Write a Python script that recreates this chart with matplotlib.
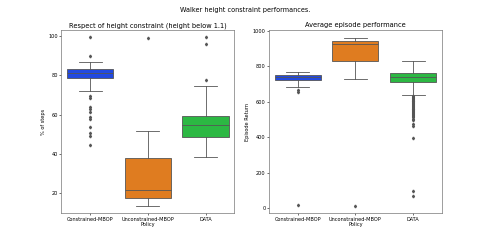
import matplotlib
matplotlib.use("Agg")
import matplotlib.pyplot as plt

policies = ["Constrained-MBOP", "Unconstrained-MBOP", "DATA"]
colors = ["#2249e0", "#df7c20", "#2cb843"]

# % of steps respecting the height constraint
pct_q1 = [78.5, 17.4, 48.4]
pct_med = [81.0, 21.5, 54.7]
pct_q3 = [83.0, 37.8, 59.3]
pct_wlo = [72.2, 13.6, 38.3]
pct_whi = [86.6, 51.7, 74.7]
pct_fliers = [
    [99.6, 89.8, 69.6, 68.3, 64.0, 63.0, 61.5, 58.6, 57.6, 53.8, 50.5, 49.1, 44.5],
    [98.8],
    [99.5, 95.9, 77.3],
]

# average episode return
ret_q1 = [725, 833, 712]
ret_med = [740, 929, 740]
ret_q3 = [754, 942, 763]
ret_wlo = [684, 731, 639]
ret_whi = [768, 963, 833]
ret_fliers = [
    [665, 658, 15],
    [10],
    [632, 627, 622, 617, 612, 607, 602, 597, 592, 587, 582, 577, 572, 567, 562,
     557, 552, 547, 542, 537, 532, 527, 520, 512, 505, 496, 477, 462, 398, 96, 68],
]


def mkstats(q1, med, q3, wlo, whi, fliers):
    return [dict(q1=a, med=b, q3=c, whislo=d, whishi=e, fliers=f)
            for a, b, c, d, e, f in zip(q1, med, q3, wlo, whi, fliers)]


def draw(ax, stats):
    gray = "#555555"
    bp = ax.bxp(stats, positions=range(len(stats)), widths=0.8, patch_artist=True,
                showfliers=True, capwidths=0.4,
                boxprops=dict(edgecolor=gray, linewidth=0.6),
                medianprops=dict(color=gray, linewidth=0.6),
                whiskerprops=dict(color=gray, linewidth=0.6),
                capprops=dict(color=gray, linewidth=0.6),
                flierprops=dict(marker="d", markersize=1.4, markerfacecolor=gray,
                                markeredgecolor=gray, linestyle="none"))
    for patch, c in zip(bp["boxes"], colors):
        patch.set_facecolor(c)
    ax.set_xlim(-0.5, len(stats) - 0.5)
    ax.set_xticks(range(len(stats)))
    ax.set_xticklabels(policies)
    ax.set_xlabel("Policy", fontsize=3.6, labelpad=0.3)
    ax.tick_params(labelsize=3.6, length=1.5, width=0.4, pad=1)
    for s in ax.spines.values():
        s.set_linewidth(0.5)
        s.set_color("#777777")


fig, (ax1, ax2) = plt.subplots(1, 2, figsize=(4.91, 2.45), dpi=100)
fig.subplots_adjust(left=0.125, right=0.9, top=0.878, bottom=0.13, wspace=0.2)

draw(ax1, mkstats(pct_q1, pct_med, pct_q3, pct_wlo, pct_whi, pct_fliers))
ax1.set_ylim(9.9, 103)
ax1.set_yticks([20, 40, 60, 80, 100])
ax1.set_ylabel("% of steps", fontsize=3.6, labelpad=2)
ax1.set_title("Respect of height constraint (height below 1.1)", fontsize=4.8, pad=2)

draw(ax2, mkstats(ret_q1, ret_med, ret_q3, ret_wlo, ret_whi, ret_fliers))
ax2.set_ylim(-30, 1007)
ax2.set_yticks([0, 200, 400, 600, 800, 1000])
ax2.set_ylabel("Episode Return", fontsize=3.6, labelpad=2)
ax2.set_title("Average episode performance", fontsize=4.8, pad=2)

fig.suptitle("Walker height constraint performances.", fontsize=4.7, y=0.97)

fig.savefig("out.png", dpi=100)
